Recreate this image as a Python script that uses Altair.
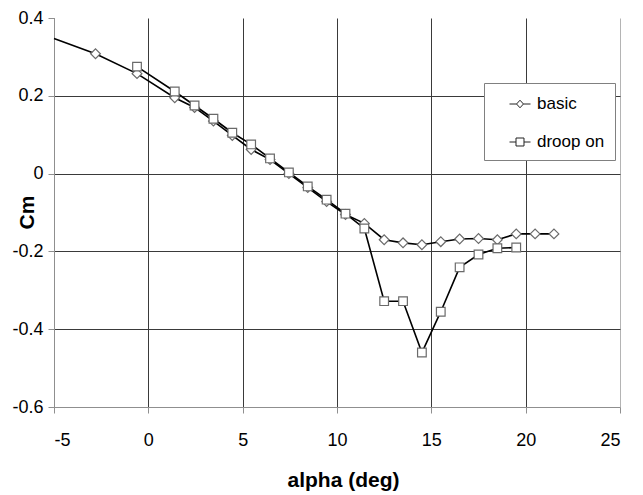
import altair as alt
import pandas as pd

# ---- data ----
series_names = ["basic", "droop on"]

basic_alpha = [-5.0, -2.8, -0.6, 1.4, 2.45, 3.45, 4.45, 5.45, 6.45, 7.45, 8.45, 9.45,
               10.45, 11.45, 12.5, 13.5, 14.5, 15.5, 16.5, 17.5, 18.5, 19.5, 20.5, 21.5]
basic_cm = [0.347, 0.308, 0.257, 0.195, 0.170, 0.135, 0.098, 0.062, 0.036, 0.000, -0.036, -0.072,
            -0.105, -0.128, -0.170, -0.178, -0.183, -0.175, -0.168, -0.167, -0.170, -0.155, -0.155, -0.155]

droop_alpha = [-0.6, 1.4, 2.45, 3.45, 4.45, 5.45, 6.45, 7.45, 8.45, 9.45, 10.45, 11.45,
               12.5, 13.5, 14.5, 15.5, 16.5, 17.5, 18.5, 19.5]
droop_cm = [0.275, 0.211, 0.175, 0.141, 0.105, 0.075, 0.039, 0.003, -0.033, -0.067, -0.103, -0.141,
            -0.328, -0.328, -0.460, -0.355, -0.241, -0.208, -0.192, -0.190]

x_ticks = [-5, 0, 5, 10, 15, 20, 25]
y_ticks = [-0.6, -0.4, -0.2, 0, 0.2, 0.4]

df = pd.concat([
    pd.DataFrame({"alpha": basic_alpha, "cm": basic_cm, "series": series_names[0]}),
    pd.DataFrame({"alpha": droop_alpha, "cm": droop_cm, "series": series_names[1]}),
], ignore_index=True)
df["order"] = range(len(df))

LABEL_FONT = "Liberation Sans, Arial"
TITLE_FONT = "Liberation Sans, Arial"
GRID = "#3a3a3a"
AXIS_GRAY = "#8f8f8f"

x_axis = alt.Axis(
    values=x_ticks, title="alpha (deg)", labelExpr="toString(datum.value)",
    labelFont=LABEL_FONT, labelFontSize=18, labelColor="black", labelPadding=18,
    tickSize=6, tickColor=AXIS_GRAY, domainColor=AXIS_GRAY,
    gridColor={"condition": {"test": "datum.value >= 24.9", "value": "#b4b4b4"}, "value": GRID},
    gridWidth=1,
    titleFont=TITLE_FONT, titleFontSize=21, titleFontWeight="bold", titleColor="black",
    titleX=289, titleY=79, titleBaseline="alphabetic", titleAnchor="middle",
)
y_axis = alt.Axis(
    values=y_ticks, title="Cm", labelExpr="toString(round(datum.value * 10) / 10)",
    labelFont=LABEL_FONT, labelFontSize=18, labelColor="black", labelPadding=5,
    tickSize=6, tickColor=AXIS_GRAY, domainColor=AXIS_GRAY,
    gridColor={"condition": {"test": "datum.value >= 0.39 || datum.value <= -0.59", "value": "transparent"}, "value": GRID},
    gridWidth=1,
    titleFont=TITLE_FONT, titleFontSize=21, titleFontWeight="bold", titleColor="black",
    titleAngle=270, titleX=-27, titleY=194, titleBaseline="middle", titleAlign="center",
)

x_enc = alt.X("alpha:Q", scale=alt.Scale(domain=[-5, 25], nice=False, zero=False), axis=x_axis)
y_enc = alt.Y("cm:Q", scale=alt.Scale(domain=[-0.6, 0.4], nice=False, zero=False), axis=y_axis)

lines = alt.Chart(df).mark_line(color="black", strokeWidth=1.6).encode(
    x=x_enc, y=y_enc, detail="series:N", order="order:Q"
)

points = alt.Chart(df).transform_filter("datum.alpha > -4.9").mark_point(
    filled=True, fill="white", stroke="#6a6a6a", strokeWidth=1.2, opacity=1
).encode(
    x=x_enc, y=y_enc,
    shape=alt.Shape("series:N", scale=alt.Scale(domain=series_names, range=["diamond", "square"]), legend=None),
    size=alt.Size("series:N", scale=alt.Scale(domain=series_names, range=[95, 75]), legend=None),
)

diamond_path = "M-1,0H-0.33M0.33,0H1M-0.33,0L0,-0.36L0.33,0L0,0.36Z"
square_path = "M-1,0H-0.38M0.38,0H1M-0.38,-0.38H0.38V0.38H-0.38Z"

legend_layer = alt.Chart(df).transform_filter("false").mark_point(
    filled=False, color="#222222", strokeWidth=1, opacity=1
).encode(
    x=x_enc, y=y_enc,
    shape=alt.Shape(
        "series:N",
        scale=alt.Scale(domain=series_names, range=[diamond_path, square_path]),
        legend=alt.Legend(
            title=None, orient="none", legendX=430, legendY=65, padding=10,
            fillColor="white", strokeColor="#808080",
            labelFont=LABEL_FONT, labelFontSize=17, labelColor="black",
            symbolSize=441, symbolStrokeWidth=1, symbolOpacity=1,
            symbolOffset=15, labelOffset=6, rowPadding=19,
            labelExpr="datum.label + '\u00a0'",
        ),
    ),
)

chart = alt.layer(lines, points, legend_layer).resolve_scale(shape="independent").properties(
    width=566, height=389, autosize="none",
    padding={"left": 54, "top": 18, "right": 23, "bottom": 88},
    background="white",
).configure_view(stroke=None)

chart.save("out.html", embed_options={"renderer": "svg", "actions": False})
